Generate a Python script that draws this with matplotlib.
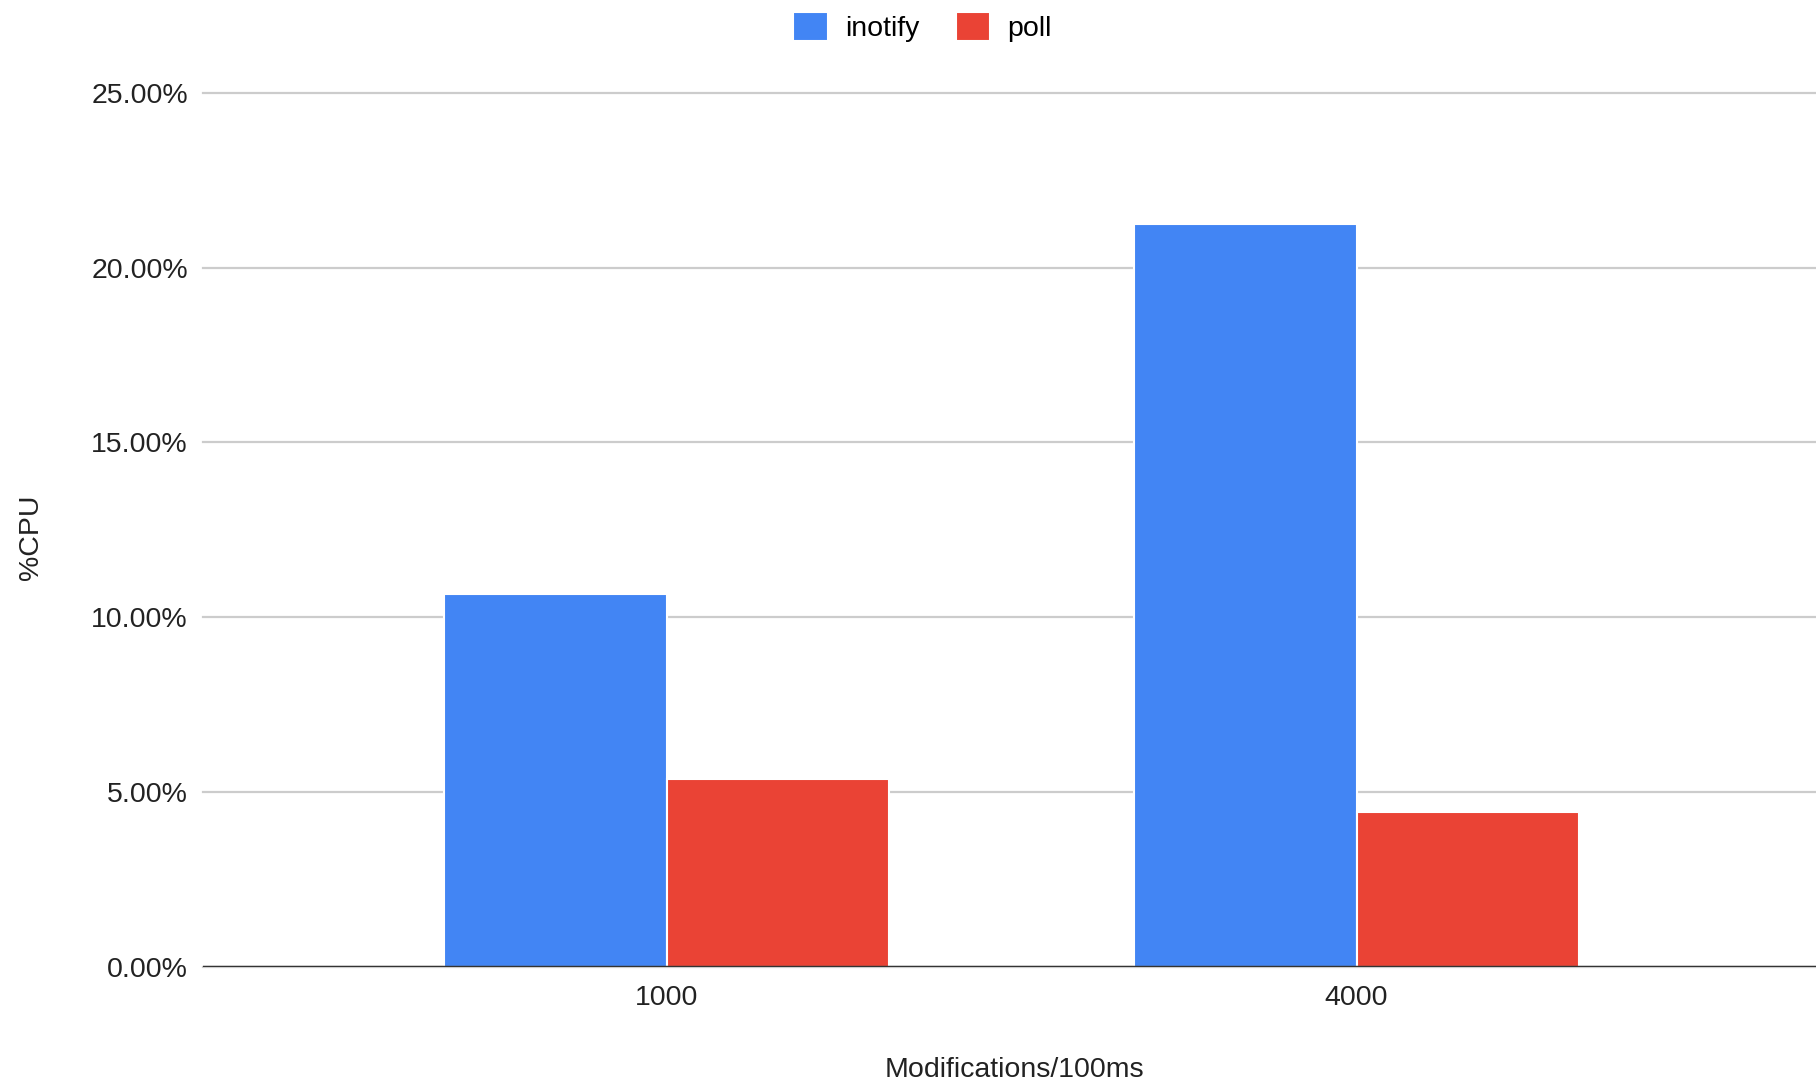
import matplotlib
matplotlib.use("Agg")
import matplotlib.pyplot as plt
import numpy as np
from matplotlib.ticker import FuncFormatter

plt.rcParams["font.family"] = ["Liberation Sans", "DejaVu Sans"]

# data
categories = ["1000", "4000"]
series_names = ["inotify", "poll"]
inotify = [10.66, 21.24]
poll = [5.37, 4.42]
colors = ["#4285F4", "#EA4335"]

fig = plt.figure(figsize=(18.16, 10.81), dpi=100)
ax = fig.add_axes([0.1118, 0.1055, 0.8882, 0.8087])

x = np.arange(len(categories))
width = 0.323
for i, (vals, name) in enumerate(zip([inotify, poll], series_names)):
    offset = width * (i - 0.5)
    ax.bar(x + offset, vals, width, label=name, color=colors[i],
           edgecolor="white", linewidth=1.5, zorder=3)

ax.set_xlim(-0.672, 1.666)
ax.set_ylim(0, 25)
ax.set_yticks([0, 5, 10, 15, 20, 25])
ax.yaxis.set_major_formatter(FuncFormatter(lambda v, _: f"{v:.2f}%"))
ax.set_xticks(x)
ax.set_xticklabels(categories)

ax.grid(axis="y", color="#cccccc", linewidth=1.6, zorder=0)
for gl in ax.get_ygridlines():
    gl.set_clip_on(False)
ax.axhline(0, color="#333333", linewidth=2.5, zorder=4)

for s in ax.spines.values():
    s.set_visible(False)
ax.tick_params(axis="both", length=0, labelsize=20.5, colors="#222222")
ax.tick_params(axis="x", pad=13)
ax.tick_params(axis="y", pad=11)

ax.set_xlabel("Modifications/100ms", fontsize=20.5, color="#222222", labelpad=33)
ax.xaxis.label.set_x(0.503)
fig.text(0.017, 0.503, "%CPU", rotation=90, fontsize=20.5, color="#222222",
         ha="center", va="center")

fig.legend(loc="upper center", bbox_to_anchor=(0.508, 1.013), ncol=2,
           frameon=False, fontsize=20.5, handlelength=1.2, handleheight=1.2,
           handletextpad=0.6, columnspacing=1.3)

plt.savefig("out.png", dpi=100)
